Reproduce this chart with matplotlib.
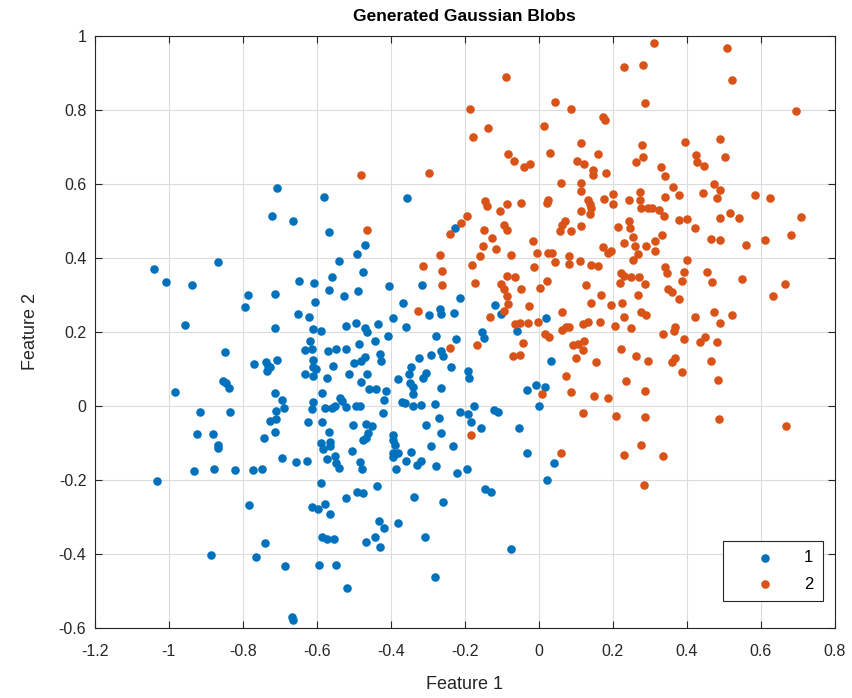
import matplotlib
matplotlib.use("Agg")
import matplotlib.pyplot as plt

# Class 1 (blue) points
x1 = [-0.706, -0.720, -0.581, -0.356, -0.664, -0.567, -0.227,
      -1.040, -1.007, -0.936, -0.868, -0.786, -0.794, -0.714, -0.957, -0.712,
      -0.849, -0.770, -0.737, -0.732, -0.735, -0.725, -0.708, -0.853, -0.844,
      -0.838, -0.984, -0.714, -0.916, -0.835, -0.727, -0.709, -0.709,
      -0.470, -0.491, -0.540, -0.475, -0.559, -0.648, -0.608, -0.567, -0.488,
      -0.527, -0.405, -0.315, -0.605, -0.367, -0.650, -0.620, -0.296, -0.268,
      -0.265, -0.230, -0.213, -0.394, -0.360, -0.433, -0.493, -0.469, -0.463,
      -0.520, -0.610, -0.589, -0.406, -0.443, -0.277, -0.223, -0.617, -0.613,
      -0.632, -0.569, -0.547, -0.521, -0.486, -0.610, -0.470, -0.479, -0.500,
      -0.428, -0.425, -0.323, -0.290, -0.263, -0.259, -0.556, -0.632, -0.610,
      -0.601, -0.610, -0.514, -0.463, -0.481, -0.571, -0.380, -0.346, -0.350,
      -0.349, -0.313, -0.305, -0.238, -0.459, -0.441, -0.414, -0.419, -0.340,
      -0.340, -0.265, -0.586, -0.538, -0.531, -0.610, -0.614, -0.693, -0.689,
      -0.578, -0.559, -0.551, -0.522, -0.495, -0.484, -0.370, -0.362, -0.340,
      -0.319, -0.281, -0.421, -0.623, -0.587, -0.502, -0.468, -0.450, -0.269,
      -0.304, -0.212,
      -0.567, -0.565, -0.563, -0.589, -0.583, -0.461, -0.468, -0.475, -0.394,
      -0.395, -0.389, -0.263, -0.693, -0.657, -0.625, -0.572, -0.551, -0.547,
      -0.541, -0.504, -0.484, -0.477, -0.394, -0.380, -0.394, -0.346, -0.358,
      -0.329, -0.317, -0.292, -0.233, -0.278, -0.386, -0.220, -0.589, -0.436,
      -0.491, -0.475, -0.520, -0.336, -0.260, -0.612, -0.596, -0.578, -0.565,
      -0.432, -0.418, -0.380, -0.587, -0.572, -0.554, -0.443, -0.466, -0.428,
      -0.308, -0.686, -0.594, -0.547, -0.280, -0.517, -0.668, -0.664,
      -0.924, -0.881, -0.868, -0.868, -0.742, -0.714, -0.932, -0.878, -0.820,
      -0.772, -0.747, -1.031, -0.784, -0.739, -0.885, -0.763,
      -0.032, -0.193, -0.144, -0.128, -0.076, 0.041, 0.023,
      -0.117, -0.101, 0.021, -0.060, -0.153, -0.148, 0.032, -0.033, -0.008,
      0.016, 0.000, -0.191, -0.189, -0.175, -0.191, -0.121, -0.110, -0.182,
      -0.157, -0.054]
y1 = [0.589, 0.514, 0.563, 0.562, 0.498, 0.470, 0.479,
      0.369, 0.333, 0.326, 0.388, 0.299, 0.266, 0.301, 0.218, 0.210,
      0.144, 0.113, 0.117, 0.106, 0.095, 0.104, 0.124, 0.066, 0.061,
      0.047, 0.038, 0.034, -0.016, -0.018, -0.041, -0.013, -0.036,
      0.434, 0.410, 0.392, 0.360, 0.347, 0.338, 0.331, 0.313, 0.309,
      0.297, 0.324, 0.326, 0.281, 0.277, 0.247, 0.239, 0.245, 0.261,
      0.248, 0.251, 0.290, 0.237, 0.212, 0.220, 0.223, 0.210, 0.198,
      0.215, 0.207, 0.201, 0.189, 0.176, 0.187, 0.180, 0.174, 0.153,
      0.150, 0.149, 0.154, 0.154, 0.167, 0.124, 0.132, 0.122, 0.115,
      0.140, 0.122, 0.129, 0.138, 0.149, 0.133, 0.108, 0.087, 0.081,
      0.099, 0.104, 0.086, 0.087, 0.063, 0.075, 0.072, 0.105, 0.086,
      0.061, 0.075, 0.089, 0.105, 0.045, 0.045, 0.041, 0.016, 0.050,
      0.032, 0.047, 0.033, 0.020, 0.014, 0.009, -0.009, 0.016, -0.005,
      -0.007, -0.006, 0.000, -0.003, -0.002, -0.002, 0.011, 0.006, 0.000,
      0.003, 0.005, -0.021, -0.045, -0.045, -0.051, -0.050, -0.054, -0.033,
      -0.051, -0.018,
      -0.070, -0.097, -0.109, -0.102, -0.118, -0.073, -0.086, -0.093, -0.080,
      -0.093, -0.106, -0.073, -0.142, -0.153, -0.150, -0.145, -0.136, -0.156,
      -0.169, -0.122, -0.151, -0.172, -0.129, -0.127, -0.138, -0.126, -0.149,
      -0.160, -0.150, -0.109, -0.108, -0.163, -0.172, -0.181, -0.210, -0.217,
      -0.234, -0.237, -0.249, -0.246, -0.260, -0.273, -0.278, -0.266, -0.293,
      -0.312, -0.330, -0.318, -0.354, -0.359, -0.361, -0.356, -0.369, -0.381,
      -0.356, -0.432, -0.431, -0.431, -0.462, -0.493, -0.570, -0.579,
      -0.077, -0.077, -0.106, -0.115, -0.088, -0.070, -0.176, -0.171, -0.174,
      -0.174, -0.171, -0.204, -0.268, -0.372, -0.404, -0.410,
      -0.127, -0.172, -0.226, -0.233, -0.386, -0.154, -0.201,
      0.273, 0.248, 0.237, 0.203, 0.200, 0.182, 0.120, 0.043, 0.057,
      0.050, 0.000, 0.095, 0.075, -0.002, -0.022, -0.012, -0.016, -0.045,
      -0.061, -0.061]

# Class 2 (orange) points
x2 = [-0.479, -0.296, -0.464, -0.240, -0.209, -0.195,
      -0.088, -0.186, 0.044, 0.087, 0.173, 0.180, 0.231, 0.282, 0.287,
      -0.138, -0.177, 0.014, 0.115, 0.031, 0.160, 0.278, 0.282, 0.264,
      -0.082, -0.067, -0.041, -0.023, 0.103, 0.123, 0.146, 0.148, 0.181,
      0.061, 0.114, 0.113, 0.200, 0.201, 0.275, 0.275, 0.277, 0.294, 0.243,
      0.177, 0.133, 0.138, 0.142, 0.139, 0.114, 0.025, 0.022, -0.144, -0.139,
      -0.086, -0.047, -0.105, -0.095, -0.085, -0.148, 0.070, 0.063, 0.057,
      0.113, 0.213, 0.243, 0.248, 0.088,
      0.311, 0.510, 0.521, 0.696, 0.394, 0.489, 0.426, 0.429, 0.447, 0.503,
      0.330, 0.342, 0.364, 0.341, 0.378, 0.475, 0.489, 0.481, 0.445, 0.584,
      0.626, 0.307, 0.325, 0.339, 0.379, 0.400, 0.423, 0.490, 0.518, 0.540,
      0.710,
      -0.268, -0.313, -0.262, -0.262, -0.326, -0.239,
      -0.126, -0.150, -0.159, -0.116, -0.180, -0.074, -0.015, -0.006, -0.013,
      0.025, 0.037, 0.043, 0.082, 0.081, 0.111, 0.142, 0.159, 0.174, 0.186,
      0.196, 0.230, 0.255, 0.259, 0.268, 0.255, 0.291, -0.173, -0.087, -0.065,
      -0.103, -0.094, -0.085, -0.083, -0.094, -0.047, 0.003, 0.023, 0.129,
      0.168, 0.142, 0.196, 0.222, 0.231, 0.250, 0.270, 0.286, 0.219, 0.268,
      0.225, -0.027, 0.064, -0.132, -0.065, -0.051, -0.029, -0.002, 0.016,
      0.028, 0.063, 0.075, 0.081, 0.120, 0.133, 0.165, 0.205, 0.231, 0.250,
      0.277, 0.291, -0.168, -0.042, -0.069, -0.051, 0.093, 0.106, 0.123,
      0.120, 0.102, 0.156, 0.223, 0.264, 0.294, 0.075, 0.237, 0.088, 0.150,
      0.187, 0.286, 0.010, 0.120, 0.210, 0.286,
      0.314, 0.332, 0.314, 0.465, 0.491, 0.561, 0.611, 0.683, 0.401, 0.342,
      0.347, 0.393, 0.386, 0.455, 0.468, 0.550, 0.665, 0.633, 0.350, 0.359,
      0.379, 0.423, 0.474, 0.523, 0.489, 0.368, 0.365, 0.336, 0.393, 0.435,
      0.450, 0.482, 0.359, 0.368, 0.465, 0.386, 0.485, 0.486, 0.667,
      -0.184, 0.059, 0.231, 0.276, 0.285, 0.336]
y2 = [0.623, 0.629, 0.476, 0.465, 0.494, 0.514,
      0.889, 0.801, 0.821, 0.801, 0.781, 0.771, 0.915, 0.920, 0.818,
      0.751, 0.725, 0.755, 0.710, 0.683, 0.680, 0.704, 0.672, 0.659,
      0.680, 0.662, 0.644, 0.654, 0.662, 0.653, 0.637, 0.623, 0.628,
      0.603, 0.602, 0.580, 0.573, 0.546, 0.578, 0.557, 0.533, 0.533, 0.556,
      0.558, 0.557, 0.546, 0.534, 0.517, 0.527, 0.557, 0.548, 0.554, 0.539,
      0.545, 0.548, 0.525, 0.488, 0.476, 0.474, 0.500, 0.488, 0.473,
      0.485, 0.483, 0.500, 0.480, 0.471,
      0.981, 0.967, 0.881, 0.796, 0.713, 0.721, 0.677, 0.658, 0.648, 0.672,
      0.644, 0.620, 0.592, 0.564, 0.569, 0.598, 0.583, 0.562, 0.576, 0.570,
      0.561, 0.533, 0.530, 0.514, 0.503, 0.505, 0.479, 0.507, 0.522, 0.508,
      0.509,
      0.407, 0.378, 0.365, 0.326, 0.257, 0.156,
      0.453, 0.432, 0.405, 0.423, 0.380, 0.408, 0.446, 0.414, 0.376,
      0.412, 0.412, 0.389, 0.405, 0.383, 0.392, 0.381, 0.378, 0.428, 0.414,
      0.419, 0.441, 0.455, 0.432, 0.410, 0.394, 0.432, 0.331, 0.350, 0.347,
      0.329, 0.315, 0.297, 0.275, 0.255, 0.315, 0.317, 0.338, 0.326,
      0.300, 0.277, 0.273, 0.358, 0.351, 0.349, 0.347, 0.329, 0.331, 0.300,
      0.277, 0.270, 0.254, 0.239, 0.221, 0.223, 0.223, 0.225, 0.194,
      0.185, 0.205, 0.212, 0.214, 0.221, 0.225, 0.227, 0.216, 0.239, 0.209,
      0.252, 0.245, 0.164, 0.169, 0.135, 0.138, 0.164, 0.167, 0.174,
      0.151, 0.128, 0.119, 0.153, 0.133, 0.122, 0.079, 0.066, 0.037, 0.025,
      0.021, 0.039, 0.032, -0.020, -0.027, -0.031,
      0.446, 0.461, 0.417, 0.450, 0.448, 0.434, 0.448, 0.460, 0.394, 0.374,
      0.359, 0.360, 0.336, 0.360, 0.335, 0.342, 0.329, 0.296, 0.315, 0.306,
      0.287, 0.241, 0.254, 0.246, 0.223, 0.214, 0.201, 0.194, 0.180, 0.173,
      0.185, 0.173, 0.117, 0.129, 0.120, 0.092, 0.069, -0.036, -0.054,
      -0.078, -0.129, -0.133, -0.106, -0.213, -0.136]

labels = ["1", "2"]
colors = ["#0072BD", "#D95319"]
title = "Generated Gaussian Blobs"
xlabel = "Feature 1"
ylabel = "Feature 2"
xticks = [-1.2, -1.0, -0.8, -0.6, -0.4, -0.2, 0, 0.2, 0.4, 0.6, 0.8]
xticklabels = ["-1.2", "-1", "-0.8", "-0.6", "-0.4", "-0.2", "0", "0.2", "0.4", "0.6", "0.8"]
yticks = [-0.6, -0.4, -0.2, 0, 0.2, 0.4, 0.6, 0.8, 1]
yticklabels = ["-0.6", "-0.4", "-0.2", "0", "0.2", "0.4", "0.6", "0.8", "1"]

plt.rcParams['font.family'] = ['Liberation Sans', 'DejaVu Sans']
fig = plt.figure(figsize=(8.53, 6.98), dpi=100)
ax = fig.add_axes([0.111, 0.1007, 0.8676, 0.8482])

ax.scatter(x1, y1, s=38, c=colors[0], label=labels[0], linewidths=0, zorder=3)
ax.scatter(x2, y2, s=38, c=colors[1], label=labels[1], linewidths=0, zorder=3)

ax.set_xlim(-1.2, 0.8)
ax.set_ylim(-0.6, 1.0)
ax.set_xticks(xticks)
ax.set_xticklabels(xticklabels)
ax.set_yticks(yticks)
ax.set_yticklabels(yticklabels)
ax.grid(True, color="#dcdcdc", linewidth=0.8, zorder=0)
ax.set_axisbelow(True)
ax.tick_params(direction="in", top=True, right=True, length=5, width=0.8,
               labelsize=11.5, colors="#262626")
ax.tick_params(axis="x", pad=12)
ax.tick_params(axis="y", pad=6)
for sp in ax.spines.values():
    sp.set_color("#262626")
    sp.set_linewidth(0.8)

ax.set_title(title, fontsize=12.5, fontweight="bold", color="black", pad=10.5)
ax.set_xlabel(xlabel, fontsize=13, color="#262626", labelpad=12)
ax.set_ylabel(ylabel, fontsize=13, color="#262626", labelpad=14)

leg = ax.legend(loc="lower right", bbox_to_anchor=(0.9838, 0.0451),
                fontsize=12, frameon=True, fancybox=False,
                edgecolor="#262626", markerfirst=True, handletextpad=0.45,
                borderaxespad=0, framealpha=1, markerscale=1.0,
                handlelength=3.85, labelspacing=0.7, borderpad=0.55)
leg.get_frame().set_linewidth(0.8)

fig.savefig("out.png", dpi=100)
